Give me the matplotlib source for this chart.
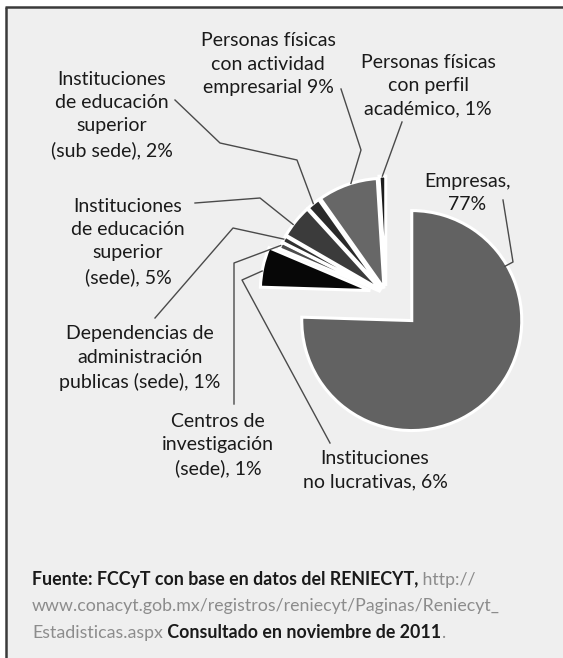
import numpy as np
import matplotlib.pyplot as plt
from matplotlib.patches import Rectangle

W, H = 563, 658

# slices, clockwise from 12 o'clock
labels = ['Empresas,\n77%',
          'Instituciones\nno lucrativas, 6%',
          'Centros de\ninvestigación\n(sede), 1%',
          'Dependencias de\nadministración\npublicas (sede), 1%',
          'Instituciones\nde educación\nsuperior\n(sede), 5%',
          'Instituciones\nde educación\nsuperior\n(sub sede), 2%',
          'Personas físicas\ncon actividad\nempresarial 9%',
          'Personas físicas\ncon perfil\nacadémico, 1%']
values = [77, 6, 1, 1, 5, 2, 9, 1]
colors = ['#626262', '#070707', '#4d4d4d', '#303030', '#3b3b3b', '#2a2a2a', '#676767', '#1c1c1c']
explode = [37, 16, 6, 6, 6, 6, 6, 8]

source_parts = [
    [('Fuente: FCCyT con base en datos del RENIECYT,', True), (' http://', False)],
    [('www.conacyt.gob.mx/registros/reniecyt/Paginas/Reniecyt_', False)],
    [('Estadisticas.aspx', False), (' Consultado en noviembre de 2011', True), ('.', False)],
]

# label centres and leader elbows, in pixels from the top-left corner
label_pos = [(467, 193), (375, 470), (218, 445), (140, 358),
             (128, 242), (112, 115), (268, 64), (428, 86)]
elbows = [
    [(503, 200), (513, 262)],
    [(330, 443), (242, 280)],
    [(234, 404), (234, 263)],
    [(155, 318), (233, 228)],
    [(195, 203), (260, 198)],
    [(175, 100), (220, 143), (297, 160)],
    [(341, 89), (361, 150)],
    [(402, 122)],
]
# where each leader touches its wedge: (fraction of the angle span, fraction of radius)
touch = [(0.78, 0.98), (0.6, 1.0), (0.5, 1.0), (0.5, 1.0),
         (0.62, 1.0), (0.5, 1.0), (0.44, 1.0), (0.5, 1.0)]

FONT = ['Lato', 'DejaVu Sans']
TXT = '#1a1a1a'


def Y(y):
    return H - y


fig = plt.figure(figsize=(W / 100, H / 100), dpi=100)
fig.patch.set_facecolor('white')
ax = fig.add_axes([0, 0, 1, 1])

# grey panel with dark rule on top and left
ax.add_patch(Rectangle((6, 0), W - 6, H - 7, facecolor='#efefef', edgecolor='none', zorder=0))
ax.plot([5, W], [Y(7), Y(7)], color='#3a3a3a', lw=1.8, solid_capstyle='butt', zorder=1)
ax.plot([6, 6], [Y(7), 0], color='#3a3a3a', lw=1.8, solid_capstyle='butt', zorder=1)

wedges, _ = ax.pie(values, colors=colors, explode=explode, startangle=90, counterclock=False,
                   center=(386, Y(294)), radius=110,
                   wedgeprops=dict(edgecolor='white', linewidth=2.2))

for w, lab, (lx, ly), pts, (t, rf) in zip(wedges, labels, label_pos, elbows, touch):
    ax.text(lx, Y(ly), lab, ha='center', va='center', fontsize=14, color=TXT,
            family=FONT, linespacing=1.45, zorder=5)
    ang = np.deg2rad(w.theta1 + t * (w.theta2 - w.theta1))
    cx, cy = w.center
    ex, ey = cx + rf * w.r * np.cos(ang), cy + rf * w.r * np.sin(ang)
    xs = [p[0] for p in pts] + [ex]
    ys = [Y(p[1]) for p in pts] + [ey]
    ax.plot(xs, ys, color='#4a4a4a', lw=1.0, zorder=4)

ax.set_xlim(0, W)
ax.set_ylim(0, H)
ax.set_aspect('auto')
ax.axis('off')

renderer = fig.canvas.get_renderer()
for i, parts in enumerate(source_parts):
    x = 32
    y = Y(580 + i * 26.5)
    for s, bold in parts:
        t = ax.text(x, y, s, ha='left', va='center', fontsize=12.8, family=FONT,
                    fontweight='bold' if bold else 'normal',
                    color='#1a1a1a' if bold else '#8c8c8c')
        x = t.get_window_extent(renderer).x1

fig.savefig('out.png', dpi=100, facecolor=fig.get_facecolor())
